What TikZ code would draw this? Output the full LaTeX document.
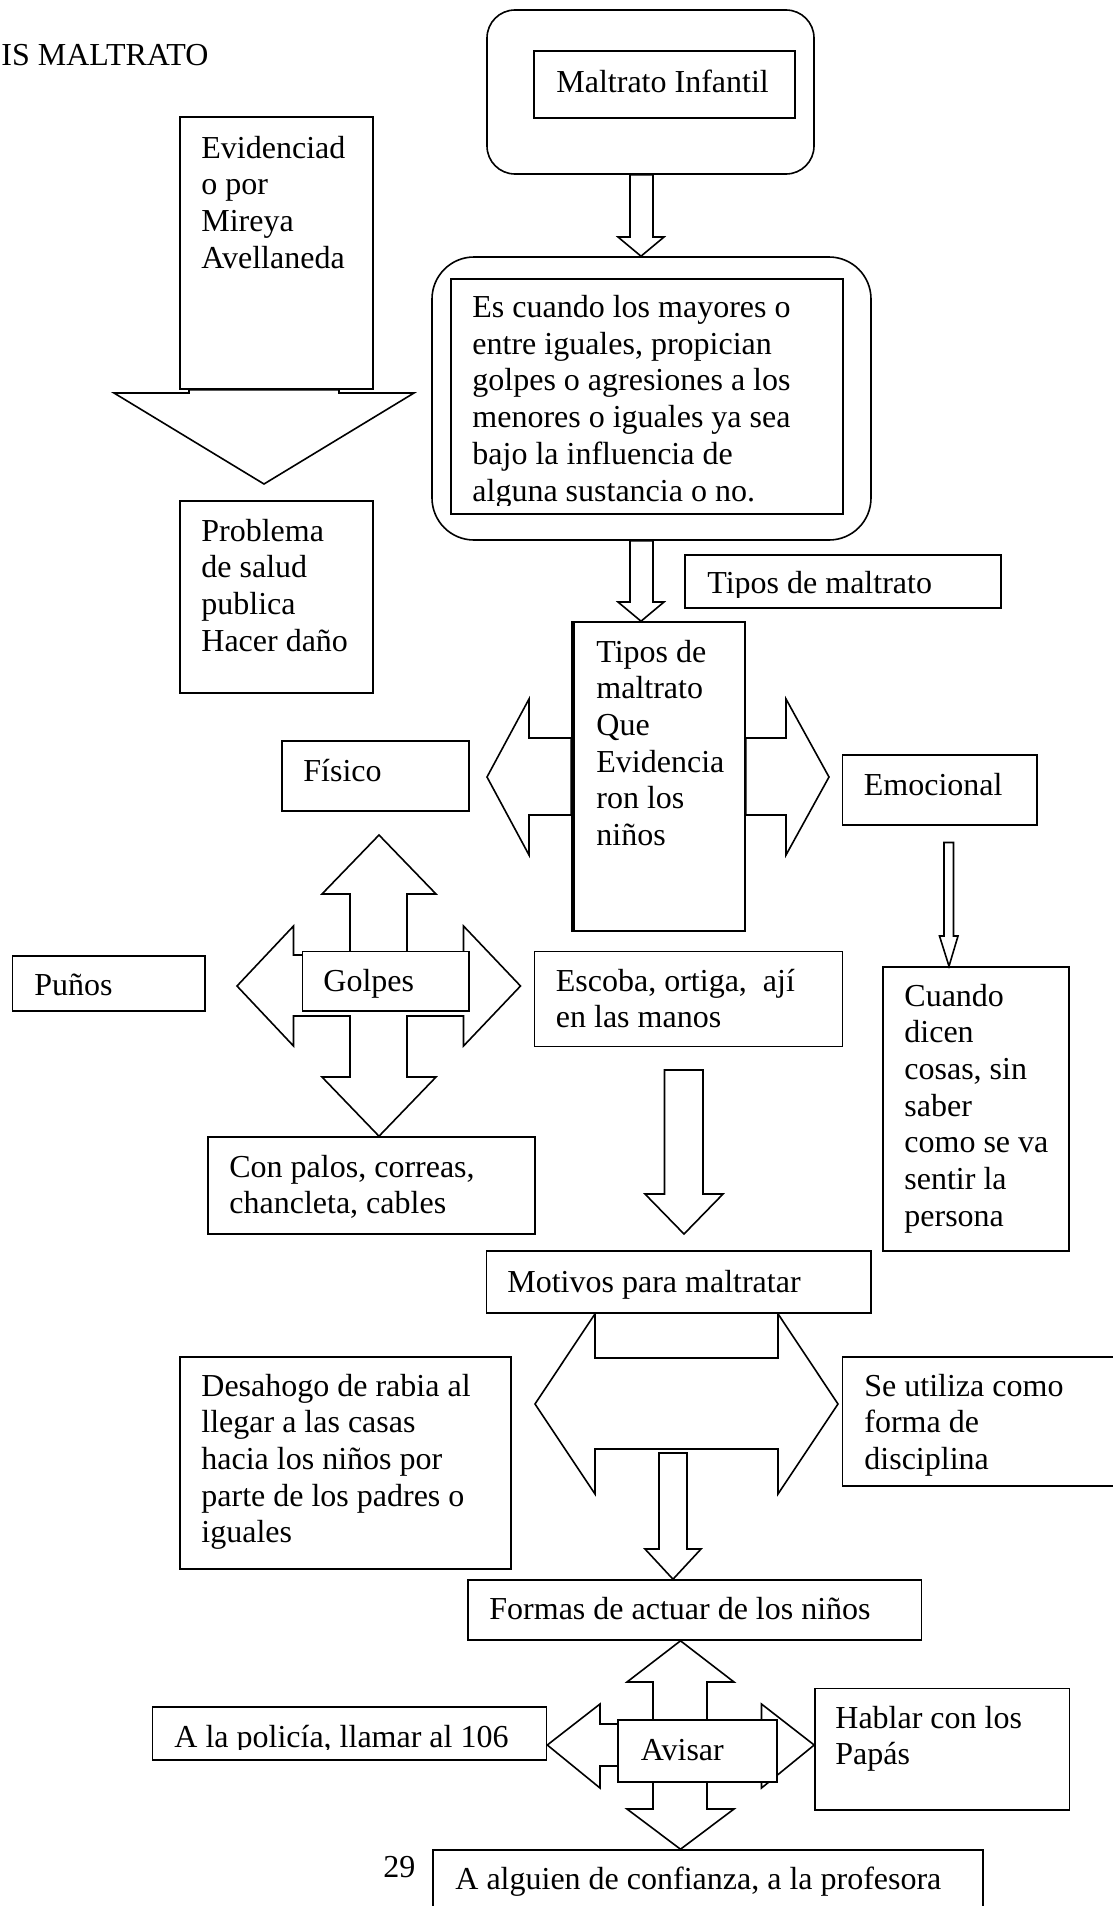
\documentclass[tikz,border=0pt]{standalone}
\usepackage{fontspec}
\setmainfont{Liberation Serif}
\usetikzlibrary{fit,backgrounds}
\newcommand{\lineas}[1]{\begin{tabular}[t]{@{}l@{}}#1\end{tabular}}

\begin{document}
\begin{tikzpicture}[
  x=0.5pt, y=-0.5pt,
  font=\fontsize{16}{18.35}\selectfont,
  box/.style={draw=black, line width=0.8pt, fill=white, inner sep=0pt},
  rbox/.style={box, rounded corners=#1},
  txt/.style={anchor=base west, inner sep=0pt},
  blk/.style={draw=black, line width=0.8pt, fill=white, line join=miter}
]
\useasboundingbox (0,0) rectangle (1113,1906);

% ==================== Title =================================
\node[txt] (titulo) at (1,65) {IS MALTRATO};

% ==================== Top column ============================
\node[rbox=14pt, fit={(487,10) (814,174)}] (maltratoBox) {};
\node[box, fit={(534,51) (795,118)}] (maltrato) {};
\node[txt] (maltratoTxt) at (556,92) {Maltrato Infantil};

\node[rbox=21pt, fit={(432,257) (871,540)}] (esBox) {};
\node[box, fit={(451,279) (843,514)}] (es) {};
\begin{scope}
  \clip (451,279) rectangle (843,505);
  \node[txt] (esTxt) at (472,317.5)
    {\lineas{Es cuando los mayores o\\entre iguales, propician\\golpes o agresiones a los\\menores o iguales ya sea\\bajo la influencia de\\alguna sustancia o no.}};
\end{scope}

\draw[blk] (maltratoBox.south -| 630,0) -- (630,237) -- (618,237)
  -- (esBox.north -| 641,0) -- (664,237) -- (653,237)
  -- (maltratoBox.south -| 653,0) -- cycle;

\node[box, fit={(685,555) (1001,608)}] (tiposLbl) {};
\begin{scope}
  \clip (685,555) rectangle (1001,597);
  \node[txt] (tiposLblTxt) at (707,593) {Tipos de maltrato};
\end{scope}

\node[box, fit={(572,622) (745,931)}] (tipos) {};
\draw[line width=0.8pt] ([xshift=1.3pt]tipos.north west) -- ([xshift=1.3pt]tipos.south west);
\node[txt] (tiposTxt) at (596,662)
  {\lineas{Tipos de\\maltrato\\Que\\Evidencia\\ron los\\niños}};

\draw[blk] (esBox.south -| 630,0) -- (630,602) -- (618,602)
  -- (tipos.north -| 641,0) -- (664,602) -- (653,602)
  -- (esBox.south -| 653,0) -- cycle;

% ==================== Evidencia column ======================
\node[box, fit={(180,117) (373,389)}] (evidencia) {};
\node[txt] (evidenciaTxt) at (201,158) {\lineas{Evidenciad\\o por\\Mireya\\Avellaneda}};

\node[box, fit={(180,501) (373,693)}] (problema) {};
\node[txt] (problemaTxt) at (201,541) {\lineas{Problema\\de salud\\publica\\Hacer daño}};

\draw[blk] (evidencia.south -| 189,0) -- (189,393) -- (114,393) -- (264,484)
  -- (414,393) -- (339,393) -- (evidencia.south -| 339,0) -- cycle;

% ==================== Tipos de maltrato =====================
\node[box, fit={(282,741) (469,811)}] (fisico) {};
\node[txt] (fisicoTxt) at (303,781) {Físico};

\node[box, fit={(842.5,755) (1037,825)}] (emocional) {};
\node[txt] (emocionalTxt) at (863.5,795) {Emocional};

\draw[blk] (tipos.west |- 0,738) -- (529,738) -- (529,699) -- (487,777)
  -- (529,855) -- (529,815) -- (tipos.west |- 0,815) -- cycle;
\draw[blk] (tipos.east |- 0,738) -- (786,738) -- (786,699) -- (829,777)
  -- (786,855) -- (786,815) -- (tipos.east |- 0,815) -- cycle;

\node[box, fit={(883,967) (1069,1251)}] (cuando) {};
\node[txt] (cuandoTxt) at (904,1006)
  {\lineas{Cuando\\dicen\\cosas, sin\\saber\\como se va\\sentir la\\persona}};

\draw[blk] (944,842.5) -- (944,936) -- (939.5,936) -- (cuando.north -| 949,0)
  -- (958,936) -- (953.5,936) -- (953.5,842.5) -- cycle;

% ==================== Golpes ================================
\node[box, fit={(302.5,951.5) (469,1011)}] (golpes) {};
\node[txt] (golpesTxt) at (323,991) {Golpes};

\node[box, fit={(12.5,956) (205,1011)}] (punos) {};
\node[txt] (punosTxt) at (34,995) {Puños};

\node[box, fit={(534.5,951.5) (842.5,1046.5)}] (escoba) {};
\node[txt] (escobaTxt) at (555.5,991) {\lineas{Escoba, ortiga,~ ají\\en las manos}};

\node[box, fit={(208,1137) (535,1234)}] (palos) {};
\node[txt] (palosTxt) at (229,1177) {\lineas{Con palos, correas,\\chancleta, cables}};

\begin{scope}[on background layer]
  \draw[blk] (379,835) -- (436,894) -- (407,894) -- (407,955) -- (463.5,955)
    -- (463.5,926) -- (520.5,986) -- (463.5,1046) -- (463.5,1016) -- (407,1016)
    -- (407,1077) -- (436,1077) -- (palos.north -| 379,0) -- (322,1077)
    -- (350,1077) -- (350,1016) -- (293.5,1016) -- (293.5,1046) -- (237,986)
    -- (293.5,926) -- (293.5,955) -- (350,955) -- (350,894) -- (322,894) -- cycle;
\end{scope}

% ==================== Motivos ===============================
\node[box, fit={(486.5,1251) (871,1313)}] (motivos) {};
\node[txt] (motivosTxt) at (507,1292) {Motivos para maltratar};

\draw[blk] (664.5,1070) -- (664.5,1194) -- (645,1194) -- (684,1234)
  -- (723,1194) -- (703,1194) -- (703,1070) -- cycle;

\node[box, fit={(180,1357) (511,1569)}] (desahogo) {};
\node[txt] (desahogoTxt) at (201,1396)
  {\lineas{Desahogo de rabia al\\llegar a las casas\\hacia los niños por\\parte de los padres o\\iguales}};

\node[box, fit={(842.5,1357) (1125,1486)}] (disciplina) {};
\node[txt] (disciplinaTxt) at (864,1396) {\lineas{Se utiliza como\\forma de\\disciplina}};

\begin{scope}[on background layer]
  \draw[blk] (595,1358) -- (778,1358) -- (motivos.south -| 778,0) -- (838,1404)
    -- (778,1494) -- (778,1449) -- (595,1449) -- (595,1494) -- (535,1404)
    -- (motivos.south -| 595,0) -- cycle;
\end{scope}

\node[box, fit={(468,1580) (921.5,1640)}] (formas) {};
\node[txt] (formasTxt) at (489,1619.5) {Formas de actuar de los niños};

\draw[blk] (659,1453) -- (659,1549) -- (645,1549) -- (formas.north -| 673,0)
  -- (701,1549) -- (687,1549) -- (687,1453) -- cycle;

% ==================== Avisar ================================
\node[box, fit={(618,1720) (777,1782)}] (avisar) {};
\node[txt] (avisarTxt) at (640.5,1760) {Avisar};

\node[box, fit={(152.5,1707) (546.5,1760)}] (policia) {};
\begin{scope}
  \clip (152.5,1707) rectangle (546.5,1749.5);
  \node[txt] (policiaTxt) at (174,1747) {A la policía, llamar al 106};
\end{scope}

\node[box, fit={(815,1688.5) (1069.5,1810)}] (hablar) {};
\node[txt] (hablarTxt) at (835,1728) {\lineas{Hablar con los\\Papás}};

\node[box, fit={(433,1850) (983,1925)}] (confianza) {};
\node[txt] (confianzaTxt) at (455,1889) {A alguien de confianza, a la profesora};

\begin{scope}[on background layer]
  \draw[blk] (formas.south -| 680.5,0) -- (734,1682) -- (707,1682) -- (707,1724)
    -- (761.5,1724) -- (761.5,1704) -- (hablar.west |- 0,1745) -- (761.5,1788)
    -- (761.5,1766) -- (707,1766) -- (707,1809) -- (734,1809)
    -- (confianza.north -| 680.5,0) -- (627,1809) -- (653,1809) -- (653,1766)
    -- (600,1766) -- (600,1788) -- (policia.east |- 0,1745) -- (600,1704)
    -- (600,1724) -- (653,1724) -- (653,1682) -- (627,1682) -- cycle;
\end{scope}

\node[txt] (pagina) at (383,1877.5) {29};

\end{tikzpicture}
\end{document}
